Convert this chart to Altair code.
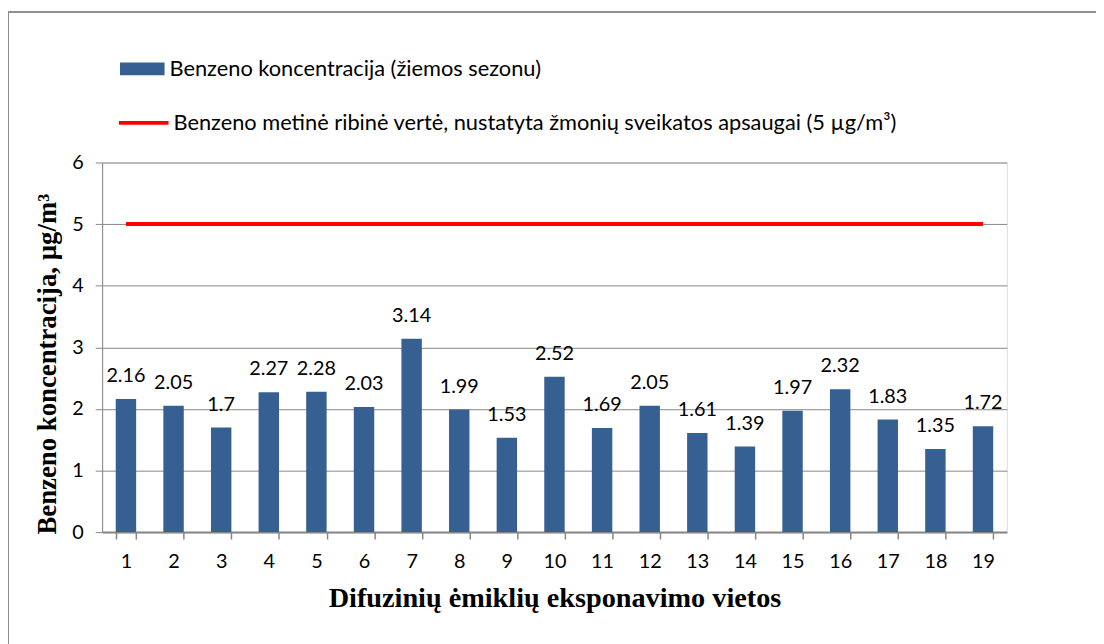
import altair as alt
import pandas as pd

sites = [str(i) for i in range(1, 20)]
values = [2.16, 2.05, 1.7, 2.27, 2.28, 2.03, 3.14, 1.99, 1.53, 2.52,
          1.69, 2.05, 1.61, 1.39, 1.97, 2.32, 1.83, 1.35, 1.72]
value_labels = ["2.16", "2.05", "1.7", "2.27", "2.28", "2.03", "3.14", "1.99", "1.53", "2.52",
                "1.69", "2.05", "1.61", "1.39", "1.97", "2.32", "1.83", "1.35", "1.72"]
limit_value = 5
y_ticks = [0, 1, 2, 3, 4, 5, 6]
bar_series = "Benzeno koncentracija (žiemos sezonu)"
line_series = "Benzeno metinė ribinė vertė, nustatyta žmonių sveikatos apsaugai (5 µg/m³)"
x_title = "Difuzinių ėmiklių eksponavimo vietos"
y_title = "Benzeno koncentracija, µg/m³"

bars_df = pd.DataFrame({"site": sites, "value": values, "label": value_labels,
                        "series": [bar_series] * len(sites)})
line_df = pd.DataFrame({"site": sites, "value": [limit_value] * len(sites),
                        "series": [line_series] * len(sites)})

LABEL_FONT = "Lato"
GRAY = "#868686"
W, H = 913, 373

x_enc = alt.X("site:N", sort=sites,
              scale=alt.Scale(paddingInner=0.571, paddingOuter=0.2855),
              axis=alt.Axis(title=x_title, labelAngle=0, tickBand="extent",
                            tickSize=7, tickColor=GRAY, tickWidth=1.5,
                            domainColor=GRAY, domainWidth=2,
                            labelFont=LABEL_FONT, labelFontSize=20, labelColor="#000000",
                            labelPadding=13, titleFont="Liberation Serif",
                            titleFontWeight="bold", titleFontSize=28.5, titleColor="#000000",
                            titlePadding=12))
y_enc = alt.Y("value:Q", scale=alt.Scale(domain=[0, 6], nice=False),
              axis=alt.Axis(title=y_title, values=y_ticks, format="d",
                            gridColor=GRAY, gridWidth=1, tickSize=7, tickColor=GRAY,
                            domainColor=GRAY, domainWidth=1,
                            labelFont=LABEL_FONT, labelFontSize=20, labelColor="#000000",
                            labelPadding=12, titleFont="Liberation Serif",
                            titleFontWeight="bold", titleFontSize=27, titleColor="#000000",
                            titlePadding=10, titleY=203, titleAlign="center"))

bars = alt.Chart(bars_df).mark_bar(opacity=1).encode(
    x=x_enc, y=y_enc,
    color=alt.Color("series:N",
                    scale=alt.Scale(domain=[bar_series], range=["#376092"]),
                    legend=alt.Legend(title=None, orient="none", legendX=18, legendY=-117,
                                      symbolType="M-1,-0.289H1V0.289H-1Z", symbolSize=2025,
                                      symbolStrokeWidth=0, symbolOpacity=1,
                                      labelFont=LABEL_FONT, labelFontSize=22, labelLimit=0,
                                      labelColor="#000000", labelOffset=5, padding=0)))

texts = alt.Chart(bars_df).mark_text(baseline="alphabetic", dy=-17, font=LABEL_FONT,
                                     fontSize=20, color="#000000").encode(
    x=alt.X("site:N", sort=sites), y="value:Q", text="label:N")

line = alt.Chart(line_df).mark_line(strokeWidth=4).encode(
    x=alt.X("site:N", sort=sites), y="value:Q",
    stroke=alt.Stroke("series:N",
                      scale=alt.Scale(domain=[line_series], range=["#ff0000"]),
                      legend=alt.Legend(title=None, orient="none", legendX=15, legendY=-67,
                                        symbolType="stroke", symbolSize=2500,
                                        symbolStrokeWidth=4,
                                        labelFont=LABEL_FONT, labelFontSize=22, labelLimit=0,
                                        labelColor="#000000", labelOffset=3, padding=0)))

frame_left = alt.Chart(bars_df).mark_rule(color="#8c8c8c", strokeWidth=2).encode(
    x=alt.value(-95), y=alt.value(-152), y2=alt.value(500))
frame_top = alt.Chart(bars_df).mark_rule(color="#8c8c8c", strokeWidth=1).encode(
    x=alt.value(-96), x2=alt.value(1010), y=alt.value(-151.5))

chart = alt.layer(frame_left, frame_top, bars, texts, line).properties(
    width=W, height=H,
    autosize=alt.AutoSizeParams(type="none"),
    padding={"left": 95, "top": 153, "right": 90, "bottom": 110},
).configure_view(stroke=None).configure(background="#ffffff")

chart.save("out.html", embed_options={"renderer": "svg", "actions": False})
